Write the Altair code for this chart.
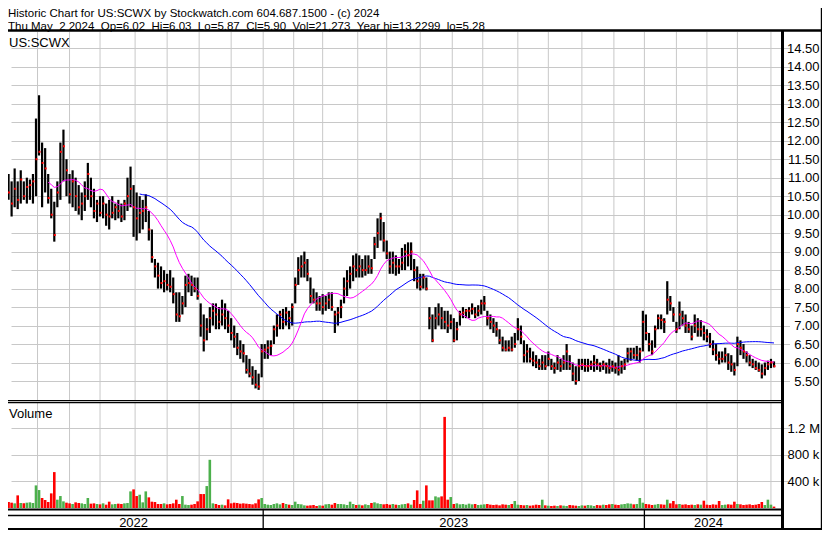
import altair as alt
import pandas as pd

# ---------------- data (2-trading-day bars, May 2022 - May 2024) ----------------
hi = [
    11.3, 11.1, 10.9, 11.25, 10.9, 11.2, 10.9, 11.0, 10.95, 11.1,
    12.6, 13.23, 11.95, 11.8, 11.1, 10.7, 10.35, 10.9, 11.95, 12.3,
    11.5, 11.1, 11.2, 11.0, 10.8, 10.6, 10.9, 11.4, 11.0, 10.7,
    10.4, 10.5, 10.5, 10.3, 10.4, 10.5, 10.3, 10.4, 10.3, 10.4,
    11.0, 11.3, 10.8, 10.6, 10.5, 10.4, 10.55, 10.1, 9.6, 8.8,
    8.7, 8.6, 8.5, 8.4, 8.5, 8.3, 7.9, 7.9, 7.8, 8.35,
    8.4, 8.35, 8.3, 8.3, 7.6, 7.3, 7.2, 7.5, 7.6, 7.6,
    7.5, 7.7, 7.6, 7.4, 7.2, 7.0, 6.8, 6.6, 6.5, 6.2,
    6.1, 5.9, 5.8, 5.7, 6.5, 6.5, 6.6, 6.6, 7.0, 7.3,
    7.4, 7.45, 7.5, 7.4, 7.6, 8.3, 8.85, 8.9, 9.0, 8.8,
    8.3, 8.0, 7.9, 7.8, 7.85, 7.8, 7.9, 7.9, 7.4, 7.5,
    7.7, 8.3, 8.5, 8.6, 8.9, 8.95, 8.9, 8.8, 8.9, 8.9,
    8.8, 9.4, 9.9, 10.05, 9.8, 9.3, 9.0, 9.0, 8.9, 8.8,
    9.1, 9.2, 9.25, 9.25, 8.8, 8.6, 8.4, 8.4, 8.3, 7.5,
    7.3, 7.5, 7.6, 7.5, 7.4, 7.4, 7.3, 7.2, 7.1, 7.4,
    7.5, 7.45, 7.5, 7.6, 7.5, 7.55, 7.7, 7.8, 7.4, 7.3,
    7.2, 7.1, 6.9, 6.7, 6.6, 6.6, 6.7, 6.8, 7.2, 7.0,
    6.6, 6.5, 6.4, 6.3, 6.2, 6.1, 6.2, 6.2, 6.3, 6.1,
    6.0, 6.2, 6.1, 6.2, 6.5, 6.2, 6.0, 5.9, 6.1, 6.1,
    6.1, 6.1, 6.05, 6.2, 6.1, 6.0, 6.05, 6.0, 6.1, 6.05,
    6.0, 6.2, 6.05, 6.1, 6.4, 6.4, 6.4, 6.45, 6.4, 7.4,
    7.3, 6.8, 6.6, 7.0, 7.3, 7.3, 7.2, 8.2, 7.8, 7.5,
    7.1, 7.65, 7.4, 7.3, 7.1, 7.0, 7.3, 7.2, 7.15, 7.0,
    6.9, 6.8, 6.6, 6.5, 6.3, 6.3, 6.4, 6.25, 6.2, 6.0,
    6.7, 6.6, 6.5, 6.3, 6.2, 6.1, 6.05, 6.0, 5.95, 6.0,
    6.05, 6.1, 6.03,
]
lo = [
    10.5, 10.4, 9.95, 10.2, 10.15, 10.3, 10.4, 10.3, 10.4, 10.3,
    10.5, 11.6, 10.2, 10.6, 10.3, 9.9, 9.27, 10.2, 10.4, 10.9,
    10.5, 10.3, 10.2, 10.1, 10.0, 9.85, 10.1, 10.4, 10.2, 9.9,
    9.8, 9.95, 9.9, 9.7, 9.6, 9.9, 9.85, 9.9, 9.8, 9.85,
    10.1, 10.2, 9.4, 9.3, 9.5, 9.6, 9.8, 9.3, 8.7, 8.3,
    8.0, 8.0, 7.9, 7.95, 7.9, 7.6, 7.1, 7.1, 7.3, 7.5,
    7.9, 7.8, 7.9, 7.7, 6.7, 6.3, 6.6, 6.8, 7.0, 6.9,
    6.9, 7.0, 6.9, 6.8, 6.6, 6.4, 6.2, 6.1, 6.0, 5.7,
    5.6, 5.4, 5.3, 5.26, 5.6, 6.1, 6.1, 6.2, 6.5, 6.7,
    6.9, 6.9, 7.0, 6.9, 7.0, 7.6, 8.1, 8.3, 8.3, 8.2,
    7.6, 7.6, 7.4, 7.4, 7.3, 7.4, 7.45, 7.4, 6.8, 7.0,
    7.2, 7.6, 7.8, 8.0, 8.2, 8.3, 8.3, 8.3, 8.35, 8.4,
    8.4, 8.8, 9.1, 9.3, 9.0, 8.8, 8.4, 8.4, 8.35, 8.4,
    8.5, 8.5, 8.6, 8.5, 8.2, 8.0, 7.95, 8.0, 7.95, 6.9,
    6.55, 6.9, 7.0, 6.9, 6.9, 6.8, 6.9, 6.55, 6.6, 7.0,
    7.2, 7.2, 7.2, 7.3, 7.2, 7.25, 7.3, 7.4, 7.0, 6.9,
    6.8, 6.7, 6.5, 6.3, 6.3, 6.3, 6.3, 6.4, 6.6, 6.5,
    6.0, 6.0, 6.0, 5.9, 5.85, 5.8, 5.8, 5.8, 5.9, 5.8,
    5.7, 5.8, 5.75, 5.8, 5.8, 5.8, 5.5, 5.4, 5.5, 5.8,
    5.75, 5.75, 5.8, 5.75, 5.8, 5.75, 5.8, 5.7, 5.7, 5.75,
    5.7, 5.65, 5.7, 5.8, 6.0, 6.05, 6.1, 6.05, 6.0, 6.3,
    6.6, 6.3, 6.2, 6.4, 6.9, 6.9, 6.8, 7.3, 7.4, 7.1,
    6.8, 6.9, 7.0, 6.8, 6.8, 6.6, 6.8, 6.7, 6.7, 6.6,
    6.55, 6.4, 6.2, 6.05, 5.95, 6.0, 6.0, 5.8, 5.75, 5.65,
    5.9, 6.2, 6.1, 6.0, 5.9, 5.85, 5.8, 5.75, 5.57, 5.65,
    5.8, 5.85, 5.87,
]
cl = [
    10.95, 10.6, 10.3, 10.7, 10.4, 10.95, 10.5, 10.75, 10.8, 10.9,
    11.5, 11.7, 11.4, 11.25, 10.45, 10.0, 9.45, 10.6, 11.7, 11.85,
    11.2, 10.55, 10.9, 10.5, 10.2, 10.3, 10.5, 11.1, 10.5, 10.1,
    10.3, 10.05, 10.3, 10.0, 9.95, 10.05, 10.2, 10.1, 9.95, 10.3,
    10.5, 10.7, 10.2, 9.9, 10.05, 10.1, 10.2, 9.6, 8.85, 8.6,
    8.35, 8.15, 8.2, 8.1, 8.05, 7.85, 7.3, 7.25, 7.6, 8.1,
    8.15, 8.1, 8.0, 7.8, 7.0, 6.6, 6.9, 7.2, 7.4, 7.3,
    7.1, 7.3, 7.2, 7.0, 6.8, 6.7, 6.4, 6.3, 6.25, 5.8,
    5.7, 5.6, 5.4, 5.35, 6.3, 6.35, 6.4, 6.45, 6.9, 7.0,
    7.3, 7.1, 7.35, 7.2, 7.5, 8.1, 8.5, 8.6, 8.7, 8.4,
    7.8, 7.7, 7.6, 7.6, 7.5, 7.6, 7.7, 7.5, 7.3, 7.35,
    7.5, 8.0, 8.2, 8.4, 8.6, 8.5, 8.6, 8.5, 8.5, 8.6,
    8.55, 9.2, 9.5, 9.9, 9.3, 8.95, 8.6, 8.7, 8.6, 8.6,
    8.7, 9.0, 8.9, 9.0, 8.5, 8.2, 8.05, 8.3, 8.0, 7.2,
    6.6, 7.2, 7.3, 7.2, 7.1, 7.0, 7.1, 6.6, 6.9, 7.3,
    7.35, 7.4, 7.4, 7.45, 7.3, 7.4, 7.6, 7.6, 7.2, 7.1,
    7.0, 6.9, 6.6, 6.4, 6.35, 6.4, 6.35, 6.5, 6.9, 6.7,
    6.2, 6.3, 6.1, 6.05, 6.0, 5.9, 6.0, 5.9, 6.1, 5.9,
    5.85, 6.0, 5.9, 6.0, 6.3, 5.9, 5.7, 5.5, 5.9, 5.95,
    5.9, 5.9, 5.95, 6.0, 5.95, 5.9, 5.95, 5.9, 5.85, 5.9,
    5.85, 5.8, 5.9, 5.95, 6.25, 6.3, 6.2, 6.2, 6.3, 7.1,
    6.8, 6.5, 6.3, 6.9, 7.2, 7.15, 7.1, 7.7, 7.6, 7.3,
    6.9, 7.3, 7.2, 7.0, 6.9, 6.7, 7.0, 6.9, 6.9, 6.8,
    6.7, 6.5, 6.35, 6.2, 6.1, 6.1, 6.2, 6.0, 5.95, 5.8,
    6.5, 6.4, 6.3, 6.2, 6.0, 5.95, 5.85, 5.8, 5.7, 5.85,
    5.95, 6.0, 5.90,
]
# volume in thousands of shares
vol = [
    110, 90, 80, 70, 190, 75, 70, 80, 85, 75,
    340, 270, 150, 120, 90, 220, 540, 125, 180, 100,
    80, 70, 60, 85, 75, 70, 60, 150, 65, 70,
    60, 55, 70, 50, 95, 55, 60, 65, 60, 70,
    75, 250, 280, 180, 200, 85, 250, 160, 95, 90,
    60, 60, 70, 55, 60, 70, 125, 60, 180, 50,
    45, 50, 60, 100, 210, 210, 330, 725, 70, 60,
    45, 50, 40, 130, 70, 80, 75, 65, 70, 65,
    60, 55, 70, 130, 150, 60, 50, 45, 60, 70,
    55, 75, 60, 50, 45, 95, 60, 55, 40, 35,
    40, 45, 30, 40, 35, 55, 60, 50, 75, 60,
    60, 55, 45, 95, 60, 45, 50, 40, 55, 45,
    75, 85, 70, 60, 55, 60, 50, 60, 50, 45,
    55, 60, 70, 50, 120, 265, 60, 110, 340, 115,
    115, 175, 160, 175, 1370, 125, 165, 60, 70, 55,
    60, 50, 65, 55, 60, 45, 50, 55, 60, 50,
    45, 50, 40, 55, 50, 45, 60, 105, 50, 45,
    40, 45, 35, 40, 50, 45, 125, 40, 35, 30,
    35, 30, 40, 35, 30, 45, 40, 35, 30, 40,
    35, 45, 40, 30, 45, 40, 50, 45, 55, 60,
    50, 45, 55, 60, 70, 65, 55, 60, 150, 80,
    60, 55, 45, 50, 60, 55, 50, 125, 70, 105,
    55, 60, 50, 55, 45, 50, 45, 55, 50, 110,
    50, 45, 55, 50, 105, 45, 50, 55, 50, 95,
    60, 55, 45, 50, 55, 45, 50, 60, 90, 45,
    125, 50, 21,
]
day = list(range(0, 505, 2))

# first trading day of each month (trading-day index from May 2 2022)
month_starts = [21, 42, 62, 85, 106, 127, 148, 169, 189, 208, 231, 250,
                272, 293, 313, 336, 356, 378, 399, 419, 440, 460, 480, 502]
year_bounds = [169, 419]
year_labels = ["2022", "2023", "2024"]
year_label_pos = [84, 294, 461]

price_ticks = [5.5 + 0.5 * i for i in range(19)]
vol_ticks = [400, 800, 1200]

header1 = "Historic Chart for US:SCWX by Stockwatch.com 604.687.1500 - (c) 2024"
header2 = ("Thu May\u00a0\u00a02 2024\u00a0\u00a0Op=6.02\u00a0\u00a0Hi=6.03\u00a0\u00a0Lo=5.87"
           "\u00a0\u00a0Cl=5.90\u00a0\u00a0Vol=21,273\u00a0\u00a0Year hi=13.2299\u00a0\u00a0lo=5.28")

assert len(hi) == len(lo) == len(cl) == len(vol) == len(day) == 253

df = pd.DataFrame({"day": day, "hi": hi, "lo": lo, "cl": cl, "vol": vol})
prev = df["cl"].shift(1)
df["dir"] = ["down" if (p == p and c < p) else "up" for c, p in zip(df["cl"], prev)]

F = "Liberation Sans"
GRID = "#c8c8c8"
GREEN = "#4cb04c"
RED = "#ff0000"

W, H = 814, 522          # whole drawing (fits the 830x543 window with its 8px margin)
PW = 774                 # plot-area width (price / volume panels)

X = alt.Scale(domain=[0, 504], range=[-7.5, 771])
PY = alt.Scale(domain=[5.0, 14.5], range=[391.5, 40.3], zero=False, nice=False)
VY = alt.Scale(domain=[0, 1200], range=[500, 420.2], nice=False)

xenc = alt.X("day:Q", scale=X, axis=None)

price_axis = alt.Axis(orient="right", values=price_ticks, format=".2f", grid=True,
                      gridColor=GRID, gridWidth=1, domain=False, ticks=False,
                      labelPadding=37, labelAlign="right", labelFontSize=13, labelFont=F,
                      labelColor="black", labelOverlap=False, labelFlush=False, title=None)
vol_axis = alt.Axis(orient="right", values=vol_ticks, grid=True, gridColor=GRID, gridWidth=1,
                    domain=False, ticks=False, labelPadding=5, labelAlign="left",
                    labelFontSize=13, labelFont=F, labelColor="black", labelOverlap=False,
                    labelFlush=False, title=None,
                    labelExpr="datum.value >= 1000 ? format(datum.value/1000, '.1f') + ' M' : datum.value + ' k'")

months_df = pd.DataFrame({"day": month_starts})
years_df = pd.DataFrame({"day": year_bounds})
ylab_df = pd.DataFrame({"day": year_label_pos, "label": year_labels})

grid_price = alt.Chart(months_df).mark_rule(color=GRID, strokeWidth=1).encode(
    x=xenc, y=alt.value(24), y2=alt.value(392))
grid_vol = alt.Chart(months_df).mark_rule(color=GRID, strokeWidth=1).encode(
    x=xenc, y=alt.value(395), y2=alt.value(500.5))

vol_bars = alt.Chart(df).mark_bar(width=2.6).encode(
    x=xenc,
    y=alt.Y("vol:Q", scale=VY, axis=vol_axis),
    color=alt.Color("dir:N", scale=alt.Scale(domain=["up", "down"], range=[GREEN, RED]), legend=None),
)

price_bars = alt.Chart(df).mark_rule(color="black", strokeWidth=2.2).encode(
    x=xenc, y=alt.Y("hi:Q", scale=PY, axis=price_axis), y2="lo:Q")

def ma_line(n, color):
    return (alt.Chart(df)
            .transform_window(ma="mean(cl)", frame=[-(n - 1), 0], sort=[alt.SortField("day")])
            .transform_window(rn="row_number()", sort=[alt.SortField("day")])
            .transform_filter(f"datum.rn >= {n}")
            .mark_line(color=color, strokeWidth=1)
            .encode(x=xenc, y=alt.Y("ma:Q", scale=PY, axis=None)))

ma_short = ma_line(15, "#ff00ff")
ma_long = ma_line(45, "#0000ff")

close_dots = alt.Chart(df).mark_square(size=4, color=RED, opacity=1, xOffset=0.5).encode(
    x=xenc, y=alt.Y("cl:Q", scale=PY, axis=None))

one = pd.DataFrame({"a": [0]})

def hline(y, x1, x2, w):
    return alt.Chart(one).mark_rule(color="black", strokeWidth=w).encode(
        x=alt.value(x1), x2=alt.value(x2), y=alt.value(y))

def vline(x, y1, y2, w):
    return alt.Chart(one).mark_rule(color="black", strokeWidth=w).encode(
        x=alt.value(x), y=alt.value(y1), y2=alt.value(y2))

frames = [
    hline(22.5, 0, W, 2.5),          # header bottom
    hline(392.7, 0, PW, 1.3),        # price / volume double line
    hline(394.7, 0, PW, 1.3),
    hline(501.5, 0, PW, 2),          # volume bottom
    hline(507.5, 0, PW, 1.5),        # strip / year row
    hline(521, 0, W, 2),             # bottom border
    vline(774.5, 22, H, 3),          # axis separator
    vline(813.4, 0, H, 1.2),         # right border
]
year_lines = alt.Chart(years_df).mark_rule(color="black", strokeWidth=1.3).encode(
    x=xenc, y=alt.value(502), y2=alt.value(521))

def label(txt, x, y, size=13):
    return alt.Chart(pd.DataFrame({"t": [txt]})).mark_text(
        align="left", baseline="alphabetic", fontSize=size, font=F, color="black"
    ).encode(x=alt.value(x), y=alt.value(y), text="t:N")

texts = [
    label(header1, 0, 9, 11.5),
    label(header2, 0, 21.8, 11.5),
    label("US:SCWX", 1, 38.5),
    label("Volume", 1, 410),
]
year_text = alt.Chart(ylab_df).mark_text(
    align="center", baseline="alphabetic", fontSize=13, font=F, color="black"
).encode(x=xenc, y=alt.value(518.5), text="label:N")

chart = alt.layer(
    grid_price, grid_vol, vol_bars, price_bars, ma_long, ma_short, close_dots,
    *frames, year_lines, *texts, year_text,
).resolve_scale(y="independent", color="independent").properties(
    width=PW, height=H,
    padding={"left": 0, "top": 0, "right": W - PW, "bottom": 0},
    autosize=alt.AutoSizeParams(type="none"),
    background="white",
).configure_view(stroke=None)

chart.save("out.html", embed_options={"renderer": "svg", "actions": False})
